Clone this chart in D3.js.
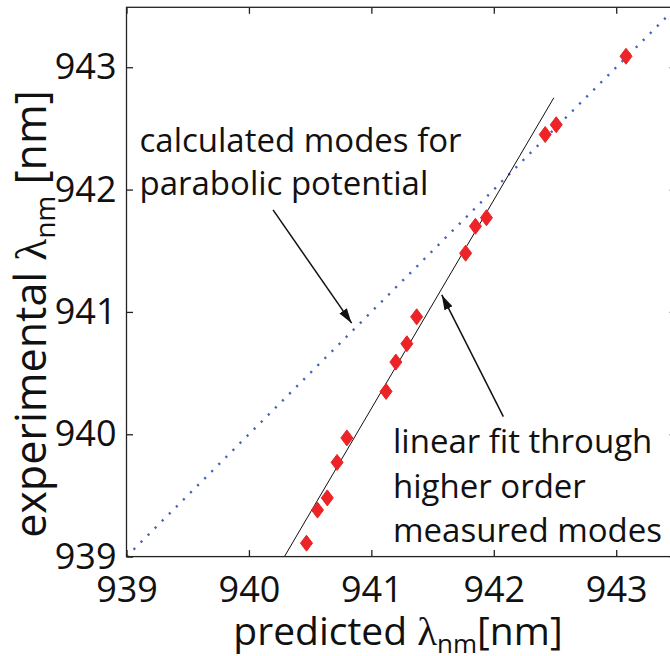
<!DOCTYPE html>
<html>
<head>
<meta charset="utf-8">
<script src="https://cdn.jsdelivr.net/npm/d3@7"></script>
<style>
  html, body { margin: 0; padding: 0; background: #fff; overflow: hidden; }
  svg { display: block; }
  text { font-family: "Open Sans", "Noto Sans", sans-serif; fill: #111; }
</style>
</head>
<body>
<svg id="chart" width="670" height="656"></svg>
<script>
// Measured mode wavelengths: predicted (parabolic model) vs experimental, in nm
const predicted = [940.47, 940.56, 940.64, 940.72, 940.80, 941.12, 941.20, 941.29, 941.37,
                   941.77, 941.85, 941.94, 942.42, 942.51, 943.08];
const measured  = [939.11, 939.38, 939.48, 939.77, 939.97, 940.35, 940.59, 940.74, 940.96,
                   941.48, 941.70, 941.77, 942.45, 942.53, 943.09];

// Linear fit through the higher order modes (end points of the drawn segment)
const fitX = [940.29, 942.49];
const fitY = [939.00, 942.75];

// Calculated modes for a parabolic potential fall on the diagonal
const modelX = [939.0, 943.5];
const modelY = [939.0, 943.5];

const xTicks = [939, 940, 941, 942, 943];
const yTicks = [939, 940, 941, 942, 943];
const xDomain = [939, 943.49];
const yDomain = [939, 943.49];

const svg = d3.select("#chart");
const plotLeft = 126.5, plotTop = 7.3, plotBottom = 556.6;
const x = d3.scaleLinear().domain(xDomain).range([plotLeft, plotLeft + 4.49 * 122.43]);
const y = d3.scaleLinear().domain(yDomain).range([plotBottom, plotTop]);
const plotRight = x.range()[1];

const defs = svg.append("defs");
defs.append("clipPath").attr("id", "plot-clip")
  .append("rect").attr("x", plotLeft).attr("y", plotTop)
  .attr("width", plotRight - plotLeft).attr("height", plotBottom - plotTop);
defs.append("marker").attr("id", "arrow")
  .attr("viewBox", "0 0 15 9").attr("refX", 15).attr("refY", 4.5)
  .attr("markerWidth", 15).attr("markerHeight", 9)
  .attr("markerUnits", "userSpaceOnUse").attr("orient", "auto")
  .append("path").attr("d", "M0,0 L15,4.5 L0,9 Z").attr("fill", "#111");

const plot = svg.append("g").attr("clip-path", "url(#plot-clip)");

// Parabolic-potential prediction (dotted blue diagonal)
const line = d3.line().x(d => x(d[0])).y(d => y(d[1]));
plot.append("path")
  .datum(d3.zip(modelX, modelY))
  .attr("d", line)
  .attr("fill", "none")
  .attr("stroke", "#4462bb")
  .attr("stroke-width", 2.4)
  .attr("stroke-dasharray", "2.2 7.8");

// Linear fit
plot.append("path")
  .datum(d3.zip(fitX, fitY))
  .attr("d", line)
  .attr("fill", "none")
  .attr("stroke", "#111")
  .attr("stroke-width", 1);

// Measured modes as red diamonds
const diamond = "M0,-8 L6,0 L0,8 L-6,0 Z";
plot.selectAll("path.mode")
  .data(d3.zip(predicted, measured))
  .join("path")
  .attr("class", "mode")
  .attr("d", diamond)
  .attr("transform", d => `translate(${x(d[0])},${y(d[1])})`)
  .attr("fill", "#ec2327")
  .attr("stroke", "#ec2327")
  .attr("stroke-width", 1);

// Axes: box frame with inward ticks on all four sides
const tickLen = 6.5;
const axisColor = "#222";
svg.append("rect").attr("x", plotLeft).attr("y", plotTop)
  .attr("width", plotRight - plotLeft).attr("height", plotBottom - plotTop)
  .attr("fill", "none").attr("stroke", axisColor).attr("stroke-width", 1.3);

const bottomAxis = d3.axisBottom(x).tickValues(xTicks).tickSizeInner(-tickLen).tickSizeOuter(0).tickPadding(11).tickFormat(d3.format("d"));
const topAxis = d3.axisTop(x).tickValues(xTicks).tickSizeInner(-tickLen).tickSizeOuter(0).tickFormat("");
const leftAxis = d3.axisLeft(y).tickValues(yTicks).tickSizeInner(-tickLen).tickSizeOuter(0).tickPadding(10).tickFormat(d3.format("d"));
const rightAxis = d3.axisRight(y).tickValues(yTicks).tickSizeInner(-tickLen).tickSizeOuter(0).tickFormat("");

function styleAxis(g) {
  g.select(".domain").remove();
  g.selectAll(".tick line").attr("stroke", axisColor).attr("stroke-width", 1.3);
  g.selectAll(".tick text").attr("fill", "#111").style("font-size", "36px")
    .style("font-family", "'Open Sans', sans-serif");
}
svg.append("g").attr("transform", `translate(0,${plotBottom})`).call(bottomAxis).call(styleAxis)
  .selectAll(".tick text").attr("dy", "0.95em");
svg.append("g").attr("transform", `translate(0,${plotTop})`).call(topAxis).call(styleAxis);
svg.append("g").attr("transform", `translate(${plotLeft},0)`).call(leftAxis).call(styleAxis);
svg.append("g").attr("transform", `translate(${plotRight},0)`).call(rightAxis).call(styleAxis);

// Axis titles with lambda and subscript
function title(g, size, pre, post) {
  const sub = Math.round(size * 0.66), shift = Math.round(size * 0.2);
  g.style("font-size", size + "px");
  g.append("tspan").text(pre);
  g.append("tspan").text("λ").style("font-family", "'Liberation Serif', serif").style("font-size", (size * 1.05) + "px");
  g.append("tspan").text("nm").style("font-size", sub + "px").attr("dy", shift);
  g.append("tspan").text(post).attr("dy", -shift);
}
const xTitle = svg.append("text")
  .attr("x", 398).attr("y", 645)
  .attr("text-anchor", "middle");
title(xTitle, 39, "predicted ", "[nm]");

const yTitle = svg.append("text")
  .attr("transform", "translate(46,314) rotate(-90)")
  .attr("text-anchor", "middle");
title(yTitle, 43, "experimental ", " [nm]");

// Annotations
const note = svg.append("g").style("font-size", "33px");
note.append("text").attr("x", 139.5).attr("y", 151.7).text("calculated modes for");
note.append("text").attr("x", 139.5).attr("y", 195).text("parabolic potential");
note.append("text").attr("x", 393).attr("y", 453.3).text("linear fit through");
note.append("text").attr("x", 393).attr("y", 498.3).text("higher order");
note.append("text").attr("x", 393).attr("y", 541.7).text("measured modes");

// Leader arrows (anchored in data units)
const arrows = [
  { from: [940.197, 941.834], to: [940.839, 940.908] },
  { from: [942.078, 940.144], to: [941.575, 941.139] }
];
svg.append("g").selectAll("line").data(arrows).join("line")
  .attr("x1", d => x(d.from[0])).attr("y1", d => y(d.from[1]))
  .attr("x2", d => x(d.to[0])).attr("y2", d => y(d.to[1]))
  .attr("stroke", "#111").attr("stroke-width", 1.5)
  .attr("marker-end", "url(#arrow)");
</script>
</body>
</html>
